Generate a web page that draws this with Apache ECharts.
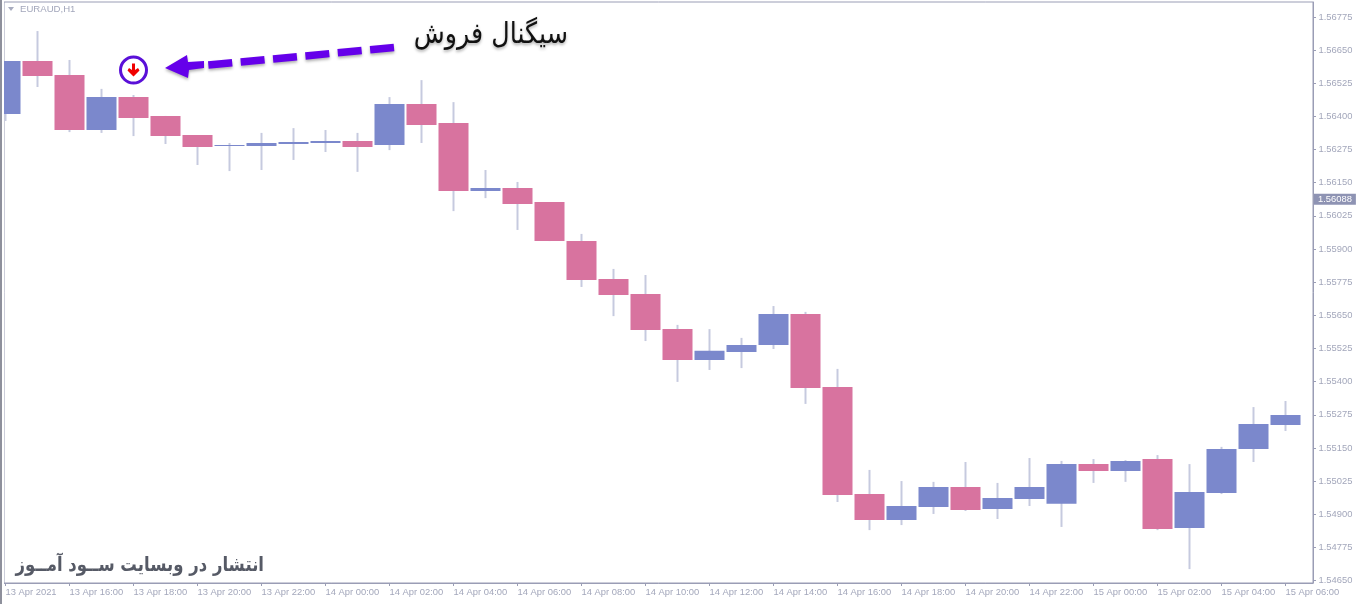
<!DOCTYPE html>
<html>
<head>
<meta charset="utf-8">
<title>EURAUD,H1</title>
<style>
  html, body { margin: 0; padding: 0; background: #fff; }
  #chart { width: 1360px; height: 604px; }
</style>
<script src="https://cdn.jsdelivr.net/npm/echarts@6/dist/echarts.min.js"></script>
</head>
<body>
<div id="chart"></div>
<script>
// hourly candles, index 0 = 13 Apr 14:00
const opens = [1.56409, 1.56609, 1.56556, 1.56349, 1.56473, 1.56402, 1.56330, 1.56289, 1.56289, 1.56296, 1.56300,
  1.56307, 1.56292, 1.56447, 1.56375, 1.56119, 1.56130, 1.56077, 1.55930, 1.55787, 1.55730,
  1.55598, 1.55482, 1.55512, 1.55538, 1.55655, 1.55380, 1.54976, 1.54878, 1.54927, 1.55003,
  1.54920, 1.54957, 1.54939, 1.55089, 1.55063, 1.55108, 1.54848, 1.54980, 1.55146, 1.55236]
const closes = [1.56609, 1.56553, 1.56349, 1.56473, 1.56394, 1.56326, 1.56285, 1.56292, 1.56300, 1.56304, 1.56307,
  1.56285, 1.56447, 1.56368, 1.56119, 1.56130, 1.56070, 1.55930, 1.55783, 1.55727, 1.55595,
  1.55482, 1.55516, 1.55538, 1.55655, 1.55376, 1.54972, 1.54878, 1.54931, 1.55003, 1.54916,
  1.54961, 1.55003, 1.55089, 1.55063, 1.55101, 1.54844, 1.54984, 1.55146, 1.55240, 1.55274]
const lows = [1.56383, 1.56511, 1.56341, 1.56338, 1.56326, 1.56296, 1.56217, 1.56194, 1.56198, 1.56236, 1.56266,
  1.56191, 1.56273, 1.56300, 1.56043, 1.56092, 1.55972, 1.55930, 1.55757, 1.55647, 1.55553,
  1.55399, 1.55444, 1.55451, 1.55523, 1.55316, 1.54946, 1.54840, 1.54859, 1.54901, 1.54912,
  1.54882, 1.54931, 1.54852, 1.55018, 1.55022, 1.54840, 1.54693, 1.54976, 1.55097, 1.55214]
const highs = [1.56609, 1.56722, 1.56613, 1.56504, 1.56481, 1.56402, 1.56330, 1.56300, 1.56338, 1.56356, 1.56349,
  1.56338, 1.56473, 1.56537, 1.56454, 1.56198, 1.56153, 1.56077, 1.55957, 1.55825, 1.55802,
  1.55614, 1.55598, 1.55565, 1.55685, 1.55663, 1.55448, 1.55067, 1.55025, 1.55022, 1.55097,
  1.55018, 1.55112, 1.55101, 1.55108, 1.55104, 1.55123, 1.55089, 1.55154, 1.55304, 1.55327]

// x axis labels, one every two candles
const timeLabels = ['13 Apr 2021', '13 Apr 16:00', '13 Apr 18:00', '13 Apr 20:00', '13 Apr 22:00', '14 Apr 00:00',
  '14 Apr 02:00', '14 Apr 04:00', '14 Apr 06:00', '14 Apr 08:00', '14 Apr 10:00', '14 Apr 12:00', '14 Apr 14:00',
  '14 Apr 16:00', '14 Apr 18:00', '14 Apr 20:00', '14 Apr 22:00', '15 Apr 00:00', '15 Apr 02:00', '15 Apr 04:00',
  '15 Apr 06:00']
const priceTicks = [1.5465, 1.54775, 1.549, 1.55025, 1.5515, 1.55275, 1.554, 1.55525, 1.5565, 1.55775, 1.559,
  1.56025, 1.5615, 1.56275, 1.564, 1.56525, 1.5665, 1.56775]
const lastPrice = 1.56088
const signalCandle = 4
const signalPrice = 1.56575

const upColor = '#7b88cc'
const downColor = '#d8739f'
const wickColor = '#c6cadf'
const frameColor = '#9a9db5'
const labelColor = '#a3a7bb'
const purple = '#6500ea'
const axisFont = 'Liberation Sans'

const candleData = opens.map((o, i) => [i, o, closes[i], lows[i], highs[i]])

const chart = echarts.init(document.getElementById('chart'))
chart.setOption({
  animation: false,
  backgroundColor: '#fff',
  grid: {
    left: 4, right: 47, top: 2, bottom: 21,
    outerBoundsMode: 'none',
    show: true, borderColor: frameColor, borderWidth: 1
  },
  xAxis: {
    type: 'value',
    min: -0.047,
    max: 40.86,
    splitLine: { show: false },
    axisLine: { lineStyle: { color: frameColor } },
    axisTick: {
      length: 3,
      lineStyle: { color: frameColor },
      customValues: timeLabels.map((t, i) => i * 2)
    },
    axisLabel: {
      color: labelColor,
      fontFamily: axisFont,
      fontSize: 9.4,
      align: 'left',
      margin: 5,
      customValues: timeLabels.map((t, i) => i * 2),
      formatter: v => timeLabels[v / 2]
    }
  },
  yAxis: {
    type: 'value',
    position: 'right',
    min: 1.546406,
    max: 1.568316,
    splitLine: { show: false },
    // x axis contains 0, keep the price axis on the right edge
    axisLine: { show: true, onZero: false, lineStyle: { color: frameColor } },
    axisTick: {
      show: true,
      length: 3,
      lineStyle: { color: frameColor },
      customValues: priceTicks
    },
    axisLabel: {
      color: labelColor,
      fontFamily: axisFont,
      fontSize: 9.4,
      margin: 5.5,
      customValues: priceTicks,
      formatter: v => v.toFixed(5)
    }
  },
  series: [
    {
      // wicks only, the thin bar under them is hidden by the bodies
      type: 'candlestick',
      barWidth: 1,
      data: candleData,
      itemStyle: { color: wickColor, color0: wickColor, borderColor: wickColor, borderColor0: wickColor, borderWidth: 2 }
    },
    {
      // bodies without border, no border means no wick either
      type: 'candlestick',
      barWidth: 30,
      data: candleData,
      itemStyle: { color: upColor, color0: downColor, borderWidth: 0 },
      // current price tag on the axis
      markLine: {
        silent: true,
        symbol: 'none',
        animation: false,
        precision: 5,
        lineStyle: { color: 'rgba(0,0,0,0)', width: 0.01 },
        label: {
          show: true,
          position: 'end',
          distance: 1,
          color: '#fff',
          fontFamily: axisFont,
          fontSize: 9.4,
          lineHeight: 11,
          backgroundColor: '#8e93b3',
          padding: [0, 4, 0, 4],
          formatter: lastPrice.toFixed(5)
        },
        data: [{ yAxis: lastPrice }]
      }
    },
    {
      type: 'scatter',
      symbol: 'circle',
      symbolSize: 26,
      data: [[signalCandle, signalPrice]],
      itemStyle: { color: 'rgba(255,255,255,0)', borderColor: '#5a10d8', borderWidth: 3, opacity: 1 }
    },
    {
      type: 'scatter',
      symbol: 'path://M4.5 0H7.5V6L10.5 4L12 6.5L6 12L0 6.5L1.5 4L4.5 6Z',
      symbolSize: [12, 13],
      data: [[signalCandle, signalPrice]],
      itemStyle: { color: '#f00000', opacity: 1 }
    }
  ],
  graphic: [
    // window edge on the left, also cuts off the first candle
    { type: 'rect', z: 100, shape: { x: 0, y: 0, width: 4, height: 604 }, style: { fill: '#fff' } },
    { type: 'rect', z: 101, shape: { x: 0, y: 0, width: 2, height: 604 }, style: { fill: '#8e909c' } },
    // chart name and its small triangle
    { type: 'polygon', shape: { points: [[8, 7], [14, 7], [11, 11]] }, style: { fill: '#a8acbf' } },
    {
      type: 'text', x: 20, y: 4,
      style: { text: 'EURAUD,H1', fill: labelColor, font: '9.6px "Liberation Sans"' }
    },
    // signal arrow
    {
      type: 'line',
      shape: { x1: 394, y1: 47.5, x2: 204, y2: 65.5 },
      style: {
        stroke: purple, lineWidth: 7.5, lineDash: [24, 8.5],
        shadowBlur: 3, shadowColor: 'rgba(0,0,0,0.3)', shadowOffsetY: 2
      }
    },
    {
      type: 'polygon',
      shape: { points: [[165, 68], [187, 55], [188, 62], [204, 61], [204, 68], [189, 70], [188, 78]] },
      style: { fill: purple, shadowBlur: 3, shadowColor: 'rgba(0,0,0,0.3)', shadowOffsetY: 2 }
    },
    {
      type: 'text', x: 568, y: 35,
      scaleY: 1.15,
      style: {
        text: 'سیگنال فروش',
        fill: '#111',
        font: '25.4px "DejaVu Sans"',
        align: 'right',
        verticalAlign: 'middle',
        textShadowBlur: 3,
        textShadowColor: 'rgba(0,0,0,0.3)',
        textShadowOffsetY: 2
      }
    },
    {
      type: 'text', x: 264, y: 566,
      scaleY: 1.2,
      style: {
        text: 'انتشار در وبسایت ســود آمــوز',
        fill: '#565a66',
        font: 'bold 16.5px "DejaVu Sans"',
        align: 'right',
        verticalAlign: 'middle'
      }
    }
  ]
})
</script>
</body>
</html>
